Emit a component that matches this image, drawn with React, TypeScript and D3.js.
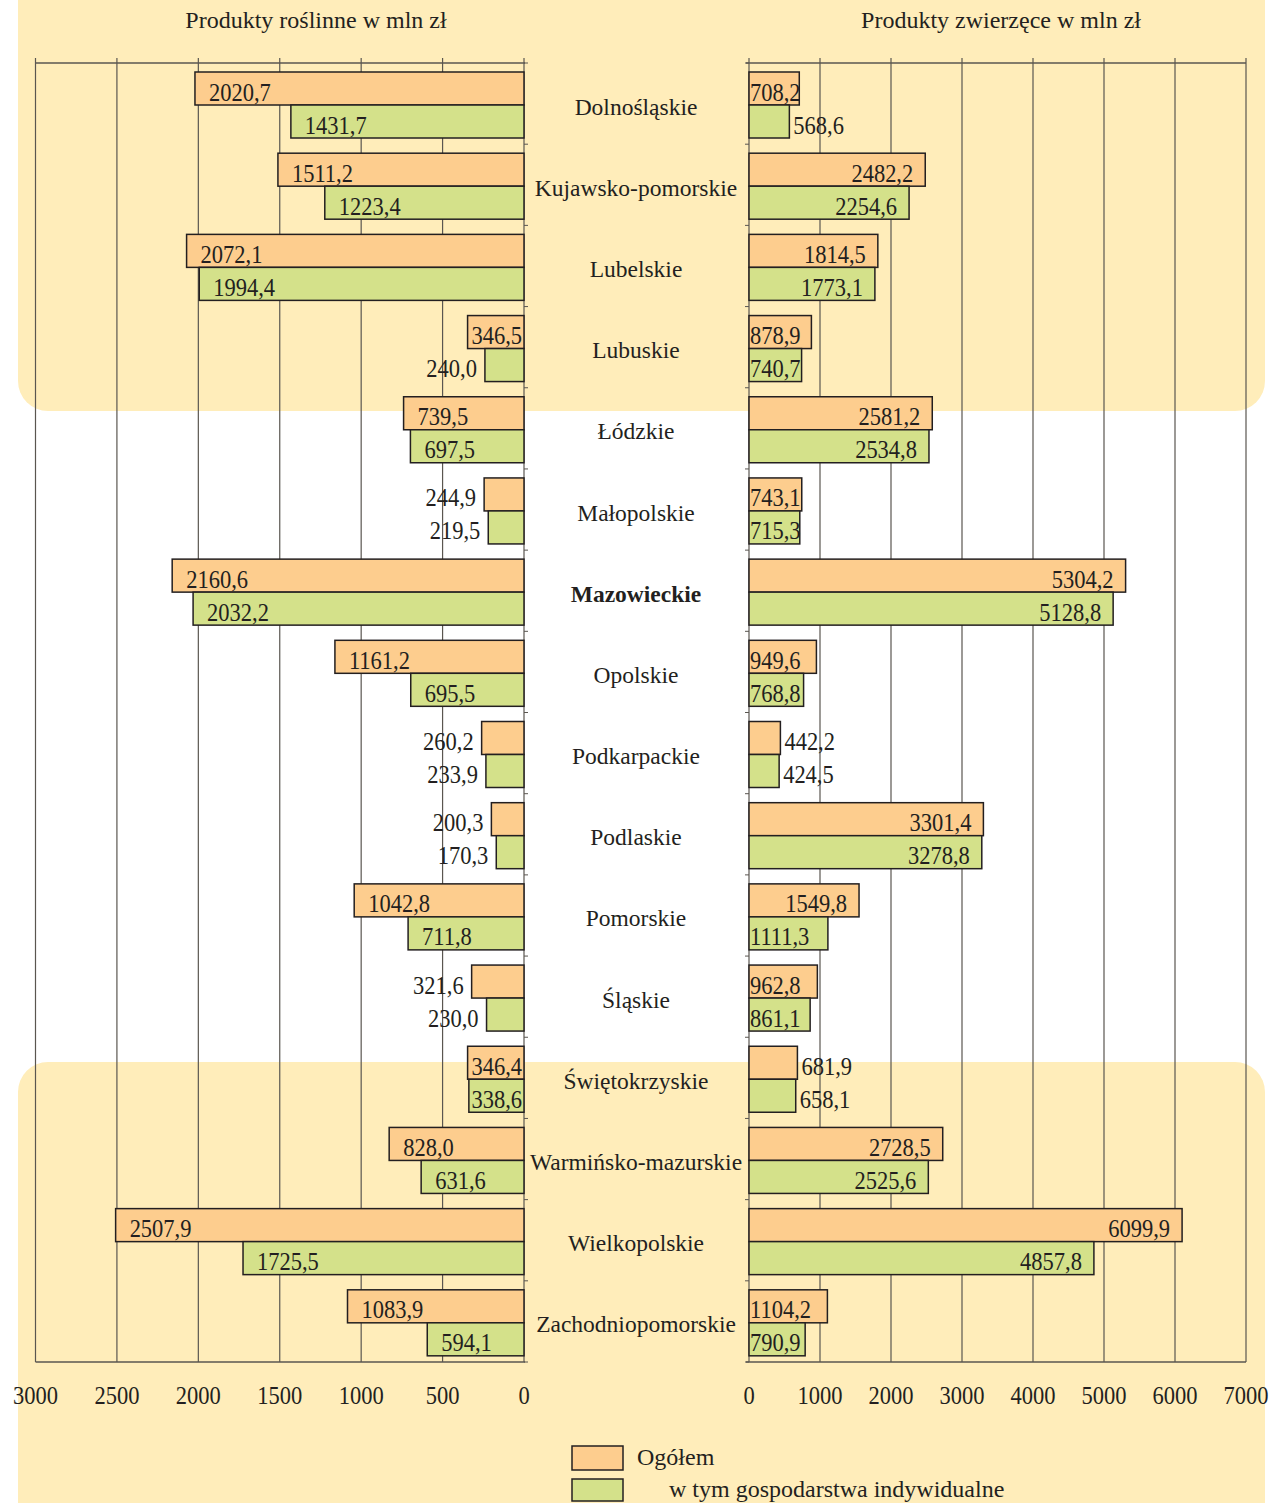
import React from "react";
import * as d3 from "d3";

const categories = ["Dolnośląskie","Kujawsko-pomorskie","Lubelskie","Lubuskie","Łódzkie","Małopolskie","Mazowieckie","Opolskie","Podkarpackie","Podlaskie","Pomorskie","Śląskie","Świętokrzyskie","Warmińsko-mazurskie","Wielkopolskie","Zachodniopomorskie"];
const plantTotal = [2020.7,1511.2,2072.1,346.5,739.5,244.9,2160.6,1161.2,260.2,200.3,1042.8,321.6,346.4,828.0,2507.9,1083.9];
const plantIndiv = [1431.7,1223.4,1994.4,240.0,697.5,219.5,2032.2,695.5,233.9,170.3,711.8,230.0,338.6,631.6,1725.5,594.1];
const animalTotal = [708.2,2482.2,1814.5,878.9,2581.2,743.1,5304.2,949.6,442.2,3301.4,1549.8,962.8,681.9,2728.5,6099.9,1104.2];
const animalIndiv = [568.6,2254.6,1773.1,740.7,2534.8,715.3,5128.8,768.8,424.5,3278.8,1111.3,861.1,658.1,2525.6,4857.8,790.9];
const plantTicks = [3000,2500,2000,1500,1000,500,0];
const animalTicks = [0,1000,2000,3000,4000,5000,6000,7000];
const seriesKeys = ["total","indiv"];
const seriesNames = ["Ogółem","w tym gospodarstwa indywidualne"];
const boldCategory = "Mazowieckie";
const leftTitle = "Produkty roślinne w mln zł";
const rightTitle = "Produkty zwierzęce w mln zł";

const W = 1274, H = 1503;
const FONT = "'Liberation Serif', 'Times New Roman', serif";
const ORANGE = "#FDCD8E";
const GREEN = "#D4E18A";
const BG = "#FFEDBA";
const INK = "#231F20";
const GRID = "#5a5650";

const fmt = (v: number) => v.toFixed(1).replace(".", ",");

function NumText(props: { x: number; y: number; anchor: string; size: number; children: any }) {
  return (
    <text transform={`translate(${props.x},${props.y}) scale(0.9,1)`} textAnchor={props.anchor} fontSize={props.size} fill={INK}>
      {props.children}
    </text>
  );
}

export default function App() {
  const y = d3.scaleBand<string>().domain(categories).range([63, 1362]);
  const sub = d3.scaleBand<string>().domain(seriesKeys).range([9, 75]);
  const xL = d3.scaleLinear().domain([0, 3000]).range([524, 35.5]);
  const xR = d3.scaleLinear().domain([0, 7000]).range([749, 1246]);
  const top = 63, bottom = 1362;

  const plant = [plantTotal, plantIndiv];
  const animal = [animalTotal, animalIndiv];
  const fills = [ORANGE, GREEN];

  const leftBars: any[] = [];
  const rightBars: any[] = [];
  categories.forEach((c, i) => {
    seriesKeys.forEach((k, s) => {
      const by = (y(c) as number) + (sub(k) as number);
      const bh = sub.bandwidth();
      const pv = plant[s][i];
      const x0 = xL(pv);
      const zL = xL(0);
      const wL = zL - x0;
      let lx: number, la: string;
      if (wL > 80) { lx = x0 + 14; la = "start"; }
      else if (wL >= 54) { lx = zL - 2; la = "end"; }
      else { lx = x0 - 8; la = "end"; }
      leftBars.push({ key: c + k, x: x0, y: by, w: wL, h: bh, fill: fills[s], label: fmt(pv), lx, la, ly: by + bh / 2 + 12 });

      const av = animal[s][i];
      const zR = xR(0);
      const x1 = xR(av);
      const wR = x1 - zR;
      let rx: number, ra: string;
      if (wR > 100) { rx = x1 - 12; ra = "end"; }
      else if (wR >= 49.5) { rx = zR + 1; ra = "start"; }
      else { rx = x1 + 4; ra = "start"; }
      rightBars.push({ key: c + k, x: zR, y: by, w: wR, h: bh, fill: fills[s], label: fmt(av), lx: rx, la: ra, ly: by + bh / 2 + 12 });
    });
  });

  const boundaries = categories.map((c) => y(c) as number).concat([bottom]);

  return (
    <svg width={W} height={H} viewBox={`0 0 ${W} ${H}`} style={{ position: "absolute", left: 0, top: 0, display: "block" }} fontFamily={FONT}>
      <rect x={0} y={0} width={W} height={H} fill="#ffffff" />
      <rect x={18} y={-60} width={1247} height={471} rx={30} ry={30} fill={BG} />
      <rect x={18} y={1062} width={1247} height={520} rx={30} ry={30} fill={BG} />

      <text x={316} y={28} textAnchor="middle" fontSize={24} fill={INK}>{leftTitle}</text>
      <text x={1001} y={28} textAnchor="middle" fontSize={24} fill={INK}>{rightTitle}</text>

      {plantTicks.map((t) => (
        <line key={"gl" + t} x1={xL(t)} x2={xL(t)} y1={top - 5} y2={bottom} stroke={GRID} strokeWidth={1.2} />
      ))}
      {animalTicks.map((t) => (
        <line key={"gr" + t} x1={xR(t)} x2={xR(t)} y1={top - 5} y2={bottom} stroke={GRID} strokeWidth={1.2} />
      ))}
      <line x1={xL(3000)} x2={xL(0) + 1} y1={top} y2={top} stroke={GRID} strokeWidth={1.6} />
      <line x1={xL(3000)} x2={xL(0) + 1} y1={bottom} y2={bottom} stroke={GRID} strokeWidth={1.6} />
      <line x1={xR(0) - 3} x2={xR(7000)} y1={top} y2={top} stroke={GRID} strokeWidth={1.6} />
      <line x1={xR(0) - 3} x2={xR(7000)} y1={bottom} y2={bottom} stroke={GRID} strokeWidth={1.6} />
      {boundaries.map((b, i) => (
        <g key={"bt" + i}>
          <line x1={xL(0)} x2={xL(0) + 4} y1={b} y2={b} stroke={GRID} strokeWidth={1} />
          <line x1={xR(0) - 4} x2={xR(0)} y1={b} y2={b} stroke={GRID} strokeWidth={1} />
        </g>
      ))}

      {leftBars.map((b) => (
        <rect key={"lb" + b.key} x={b.x} y={b.y} width={b.w} height={b.h} fill={b.fill} stroke={INK} strokeWidth={1.5} />
      ))}
      {rightBars.map((b) => (
        <rect key={"rb" + b.key} x={b.x} y={b.y} width={b.w} height={b.h} fill={b.fill} stroke={INK} strokeWidth={1.5} />
      ))}
      {leftBars.map((b) => (
        <NumText key={"lt" + b.key} x={b.lx} y={b.ly} anchor={b.la} size={25}>{b.label}</NumText>
      ))}
      {rightBars.map((b) => (
        <NumText key={"rt" + b.key} x={b.lx} y={b.ly} anchor={b.la} size={25}>{b.label}</NumText>
      ))}

      {categories.map((c) => (
        <text key={"c" + c} x={636} y={(y(c) as number) + y.bandwidth() / 2 + 11} textAnchor="middle" fontSize={23.5}
          fontWeight={c === boldCategory ? "bold" : "normal"} fill={INK}>{c}</text>
      ))}

      {plantTicks.map((t) => (
        <NumText key={"tl" + t} x={xL(t)} y={1404} anchor="middle" size={25}>{t}</NumText>
      ))}
      {animalTicks.map((t) => (
        <NumText key={"tr" + t} x={xR(t)} y={1404} anchor="middle" size={25}>{t}</NumText>
      ))}

      <rect x={572} y={1446} width={51} height={24} fill={ORANGE} stroke={INK} strokeWidth={1.5} />
      <rect x={572} y={1479} width={51} height={22} fill={GREEN} stroke={INK} strokeWidth={1.5} />
      <text x={637} y={1465} fontSize={24} fill={INK}>{seriesNames[0]}</text>
      <text x={669} y={1497} fontSize={24} fill={INK}>{seriesNames[1]}</text>
    </svg>
  );
}
